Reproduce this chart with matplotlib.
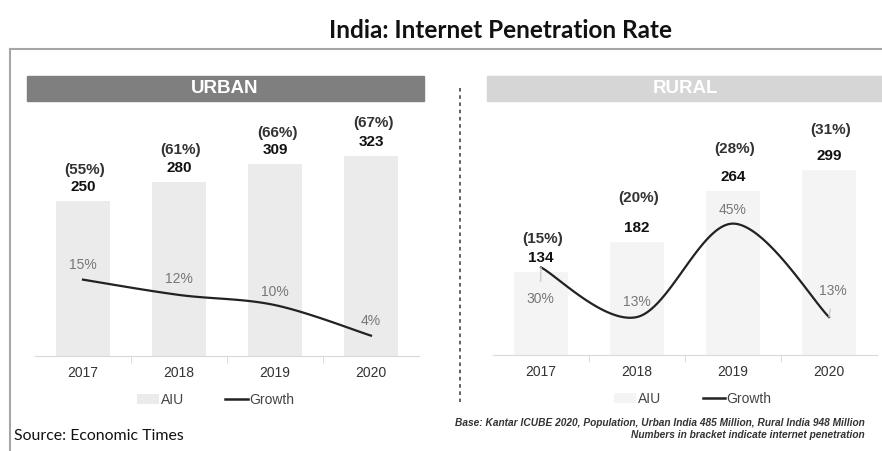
import numpy as np
import matplotlib
matplotlib.use("Agg")
import matplotlib.pyplot as plt
from matplotlib.patches import Rectangle
from matplotlib.lines import Line2D

# Internet users (millions), penetration and yearly growth
years = ["2017", "2018", "2019", "2020"]
urban_users = [250, 280, 309, 323]
urban_penetration = [55, 61, 66, 67]
urban_growth = [15, 12, 10, 4]
rural_users = [134, 182, 264, 299]
rural_penetration = [15, 20, 28, 31]
rural_growth = [30, 13, 45, 13]

plt.rcParams['font.family'] = ['Liberation Sans', 'DejaVu Sans']

W, H = 882, 451
fig = plt.figure(figsize=(W / 100, H / 100), dpi=100)


def fx(x):
    return x / W


def fy(y):
    return 1 - y / H


def smooth(xs, ys, n=40):
    # uniform Catmull-Rom spline through the points, like a smoothed office chart line
    p = np.column_stack([xs, ys]).astype(float)
    p = np.vstack([p[0], p, p[-1]])
    out = []
    for i in range(1, len(p) - 2):
        p0, p1, p2, p3 = p[i - 1], p[i], p[i + 1], p[i + 2]
        t = np.linspace(0, 1, n)[:, None]
        seg = 0.5 * ((2 * p1) + (-p0 + p2) * t + (2 * p0 - 5 * p1 + 4 * p2 - p3) * t ** 2
                     + (-p0 + 3 * p1 - 3 * p2 + p3) * t ** 3)
        out.append(seg)
    out = np.vstack(out)
    return out[:, 0], out[:, 1]


def panel(left, right, bottom, top, users, pen, growth, bar_col, ymax, gmax,
          pen_off, gr_off, leaders, legend_x):
    ax = fig.add_axes([fx(left), fy(bottom), fx(right - left), fy(top) - fy(bottom)])
    x = np.arange(len(years))
    bars = ax.bar(x, users, width=0.57, color=bar_col, zorder=1)
    ax.set_xlim(-0.5, 3.5)
    ax.set_ylim(0, ymax)
    for s in ["top", "left", "right"]:
        ax.spines[s].set_visible(False)
    ax.spines["bottom"].set_color("#d9d9d9")
    ax.set_yticks([])
    ax.set_xticks(x)
    ax.set_xticklabels(years, fontsize=10, color="#333333")
    ax.tick_params(axis="x", length=0, pad=7)
    ax.set_xticks([0.5, 1.5, 2.5], minor=True)
    ax.tick_params(axis="x", which="minor", length=5, color="#d9d9d9")
    for i, (u, p) in enumerate(zip(users, pen)):
        ax.annotate(str(u), (i, u), xytext=(0, 14), textcoords="offset pixels",
                    ha="center", va="center", fontsize=11, fontweight="bold", color="#111111")
        ax.annotate(f"({p}%)", (i, u), xytext=(2, pen_off[i]), textcoords="offset pixels",
                    ha="center", va="center", fontsize=11, fontweight="bold", color="#333333")

    ax2 = ax.twinx()
    ax2.set_ylim(0, gmax)
    ax2.axis("off")
    sx, sy = smooth(x, growth)
    ax2.plot(sx, sy, color="#222222", lw=1.6, zorder=3)
    for i, g in enumerate(growth):
        dx, dy = gr_off[i]
        ax2.annotate(f"{g}%", (i, g), xytext=(dx, dy), textcoords="offset pixels",
                     ha="center", va="center", fontsize=10, color="#777777",
                     arrowprops=dict(arrowstyle="-", color="#cccccc", lw=1,
                                     shrinkA=6, shrinkB=0) if leaders[i] else None)
    ax.legend([bars, Line2D([], [], color="#222222", lw=1.8)], ["AIU", "Growth"],
              loc="upper center", bbox_to_anchor=(legend_x, -0.1), ncol=2, frameon=False,
              fontsize=10, handlelength=1.6, handletextpad=0.1, columnspacing=3.0,
              labelcolor="#444444")
    return ax


panel(35, 419, 356, 110, urban_users, urban_penetration, urban_growth, "#ebebeb",
      246 / 0.62, 246 / 5.09, [31, 32, 31, 33],
      [(0, 15), (0, 16), (0, 13), (0, 15)], [False] * 4, 0.47)
panel(493, 877, 355, 110, rural_users, rural_penetration, rural_growth, "#f4f4f4",
      245 / 0.62, 245 / 2.92, [33, 44, 42, 40],
      [(-1, -32), (0, 15), (0, 14), (4, 26)], [True, False, False, True], 0.52)

# section header bars
fig.patches.append(Rectangle((fx(27), fy(101)), fx(397), fy(76) - fy(101),
                             transform=fig.transFigure, color="#7f7f7f", zorder=0))
fig.text(fx(225), fy(88.5), "URBAN", ha="center", va="center", fontsize=13.5,
         fontweight="bold", color="white")
fig.patches.append(Rectangle((fx(487), fy(101)), fx(395), fy(76) - fy(101),
                             transform=fig.transFigure, color="#d6d6d6", zorder=0))
fig.text(fx(685), fy(88.5), "RURAL", ha="center", va="center", fontsize=13.5,
         fontweight="bold", color="white")

# dotted divider and frame lines
fig.add_artist(Line2D([fx(460), fx(460)], [fy(88), fy(402)], color="#555555",
                      lw=1.3, ls=(0, (2, 2))))
fig.add_artist(Line2D([fx(10), fx(882)], [fy(49), fy(49)], color="#a6a6a6", lw=1.5))
fig.add_artist(Line2D([fx(10), fx(10)], [fy(49), fy(451)], color="#a6a6a6", lw=1.5))

fig.text(fx(501), fy(31), "India: Internet Penetration Rate", ha="center", va="center",
         fontsize=17.5, fontweight="bold", family=["Lato", "DejaVu Sans"], color="#111111")
fig.text(fx(14), fy(436), "Source: Economic Times", ha="left", va="center",
         fontsize=11.4, family=["Lato", "DejaVu Sans"], color="#111111")
fig.text(fx(865), fy(423), "Base: Kantar ICUBE 2020, Population, Urban India 485 Million, Rural India 948 Million",
         ha="right", va="center", fontsize=7.3, fontweight="bold", style="italic", color="#333333")
fig.text(fx(865), fy(435), "Numbers in bracket indicate internet penetration",
         ha="right", va="center", fontsize=7.3, fontweight="bold", style="italic", color="#333333")

fig.savefig("out.png", dpi=100)
